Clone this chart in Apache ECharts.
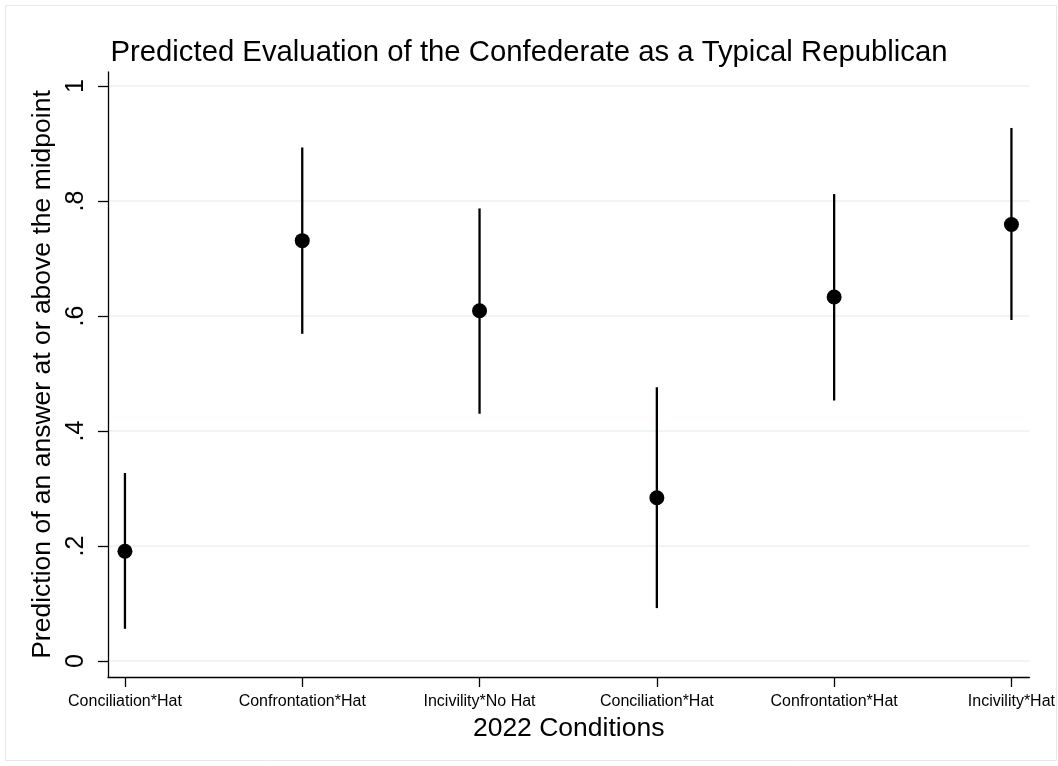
<!DOCTYPE html>
<html>
<head>
<meta charset="utf-8">
<title>Predicted Evaluation of the Confederate as a Typical Republican</title>
<script src="https://cdn.jsdelivr.net/npm/echarts@6/dist/echarts.min.js"></script>
<style>
  html, body { margin: 0; padding: 0; background: #ffffff; }
  #chart { width: 1058px; height: 766px; }
</style>
</head>
<body>
<div id="chart"></div>
<script>
// Conditions on the horizontal axis (positions 1..6)
const categories = [
  "Conciliation*Hat", "Confrontation*Hat", "Incivility*No Hat",
  "Conciliation*Hat", "Confrontation*Hat", "Incivility*Hat"
];
// Predicted probability and its confidence interval per condition
const predicted = [0.191, 0.731, 0.609, 0.284, 0.633, 0.759];
const ciLower   = [0.056, 0.569, 0.430, 0.092, 0.453, 0.593];
const ciUpper   = [0.327, 0.893, 0.787, 0.476, 0.812, 0.927];
// Y axis ticks and their labels
const yTicks      = [0, 0.2, 0.4, 0.6, 0.8, 1];
const yTickLabels = ["0", ".2", ".4", ".6", ".8", "1"];
const xTicks = categories.map((_, i) => i + 1);

const FONT = "'Liberation Sans', Arial, Helvetica, sans-serif";

const pointData = predicted.map((v, i) => [i + 1, v]);
const barData = predicted.map((_, i) => [i + 1, ciLower[i], ciUpper[i]]);

const chart = echarts.init(document.getElementById('chart'), null, { renderer: 'canvas' });

chart.setOption({
  animation: false,
  backgroundColor: '#ffffff',
  textStyle: { fontFamily: FONT },
  title: {
    text: 'Predicted Evaluation of the Confederate as a Typical Republican',
    left: 'center',
    top: 33,
    textStyle: { fontFamily: FONT, fontSize: 29.3, fontWeight: 'normal', color: '#000000' }
  },
  graphic: [{
    type: 'rect',
    silent: true,
    shape: { x: 5.5, y: 5.5, width: 1051, height: 755 },
    style: { fill: 'none', stroke: '#e3eaed', lineWidth: 1 },
    z: -1
  }],
  grid: { left: 108, right: 26, top: 72, bottom: 89, containLabel: false },
  xAxis: {
    type: 'value',
    min: 0.9044,
    max: 6.101,
    name: '2022 Conditions',
    nameLocation: 'middle',
    nameGap: 30,
    nameTextStyle: { fontFamily: FONT, fontSize: 26.5, color: '#000000' },
    axisLine: { show: true, onZero: false, lineStyle: { color: '#000000', width: 1.3 } },
    axisTick: { show: true, customValues: xTicks, length: 10, lineStyle: { color: '#000000', width: 1.3 } },
    axisLabel: {
      customValues: xTicks,
      formatter: v => categories[Math.round(v) - 1] || '',
      fontFamily: FONT, fontSize: 16, color: '#000000', margin: 17
    },
    splitLine: { show: false }
  },
  yAxis: {
    type: 'value',
    min: -0.0278,
    max: 1.0243,
    name: 'Prediction of an answer at or above the midpoint',
    nameLocation: 'middle',
    nameGap: 47,
    nameTextStyle: { fontFamily: FONT, fontSize: 26.5, color: '#000000' },
    axisLine: { show: true, onZero: false, lineStyle: { color: '#000000', width: 1.3 } },
    axisTick: { show: true, customValues: yTicks, length: 10, lineStyle: { color: '#000000', width: 1.3 } },
    axisLabel: {
      customValues: yTicks,
      rotate: 90,
      formatter: v => {
        const idx = yTicks.findIndex(t => Math.abs(t - v) < 1e-6);
        return idx >= 0 ? yTickLabels[idx] : '';
      },
      fontFamily: FONT, fontSize: 25, color: '#000000', margin: 19
    },
    splitLine: { show: true, lineStyle: { color: '#eaf2f3', width: 1.6 } }
  },
  series: [
    {
      type: 'custom',
      name: 'CI',
      data: barData,
      encode: { x: 0, y: [1, 2] },
      renderItem: (params, api) => {
        const x = api.value(0);
        const lo = api.coord([x, api.value(1)]);
        const hi = api.coord([x, api.value(2)]);
        return {
          type: 'line',
          shape: { x1: lo[0], y1: lo[1], x2: hi[0], y2: hi[1] },
          style: { stroke: '#000000', lineWidth: 2.3 }
        };
      },
      z: 2
    },
    {
      type: 'scatter',
      name: 'Prediction',
      data: pointData,
      symbol: 'circle',
      symbolSize: 15,
      itemStyle: { color: '#000000', opacity: 1 },
      z: 3
    }
  ]
});
</script>
</body>
</html>
